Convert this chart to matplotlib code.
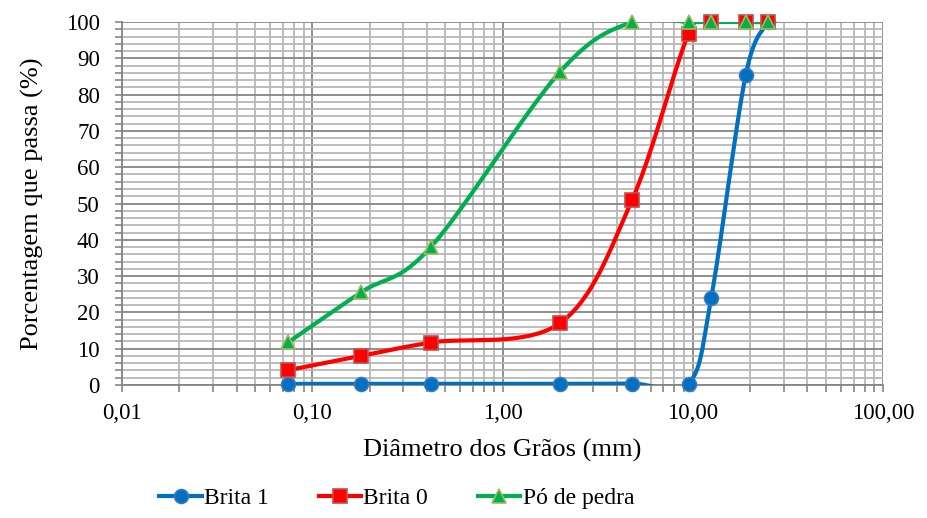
import numpy as np
import matplotlib
matplotlib.use('Agg')
import matplotlib.pyplot as plt
from matplotlib.lines import Line2D
from matplotlib.ticker import FixedLocator, FuncFormatter, MultipleLocator

# Peneiras (mm) e porcentagem que passa
diametros = [0.075, 0.18, 0.42, 2.0, 4.8, 9.5, 12.5, 19.0, 25.0]
brita_1 = [0.3, 0.3, 0.3, 0.3, 0.4, 0.4, 24.0, 85.5, 100.0]
brita_0 = [4.1, 8.0, 11.7, 17.0, 51.0, 96.7, 100.0, 100.0, 100.0]
po_pedra = [11.8, 25.5, 38.0, 86.2, 100.0, 100.0, 100.0, 100.0, 100.0]

series_names = ['Brita 1', 'Brita 0', 'Pó de pedra']
x_ticks = [0.01, 0.1, 1, 10, 100]
x_labels = ['0,01', '0,10', '1,00', '10,00', '100,00']

FONT = 'Liberation Serif'
W_PX, H_PX = 761.0, 363.0  # tamanho da area de plotagem em pixels


def smooth_curve(xs, ys, n=40):
    # curva suavizada estilo Excel (Bezier / Catmull-Rom) no espaco de pixels
    u = (np.log10(xs) + 2) / 4 * W_PX
    v = np.asarray(ys) / 100 * H_PX
    p = np.column_stack([u, v])
    out = []
    for i in range(len(p) - 1):
        p0 = p[i - 1] if i > 0 else p[i]
        p3 = p[i + 2] if i + 2 < len(p) else p[i + 1]
        c1 = p[i] + (p[i + 1] - p0) / 6
        c2 = p[i + 1] - (p3 - p[i]) / 6
        t = np.linspace(0, 1, n)[:, None]
        seg = ((1 - t) ** 3 * p[i] + 3 * (1 - t) ** 2 * t * c1
               + 3 * (1 - t) * t ** 2 * c2 + t ** 3 * p[i + 1])
        out.append(seg if i == 0 else seg[1:])
    out = np.vstack(out)
    return 10 ** (out[:, 0] / W_PX * 4 - 2), out[:, 1] / H_PX * 100


fig = plt.figure(figsize=(9.27, 5.18), dpi=100)
ax = fig.add_axes([122 / 927, 1 - 385 / 518, 761 / 927, 363 / 518])
ax.set_xscale('log')
ax.set_xlim(0.01, 100)
ax.set_ylim(0, 100)

styles = [
    dict(color='#0070C0', marker='o', mec='#3A78C0', ms=10),
    dict(color='#FF0000', marker='s', mec='#C0504D', ms=10),
    dict(color='#00B050', marker='^', mec='#9BBB59', ms=10),
]

handles = []
for ys, name, st in zip([brita_1, brita_0, po_pedra], series_names, styles):
    sx, sy = smooth_curve(diametros, ys)
    ax.plot(sx, sy, color=st['color'], lw=3, zorder=3, solid_capstyle='round')
    ax.plot(diametros, ys, ls='none', marker=st['marker'], ms=st['ms'],
            mfc=st['color'], mec=st['mec'], mew=1.2, zorder=4, clip_on=False)
    handles.append(Line2D([], [], color=st['color'], lw=3, marker=st['marker'],
                          ms=st['ms'], mfc=st['color'], mec=st['mec'], mew=1.2))

# grade
ax.yaxis.set_major_locator(MultipleLocator(10))
ax.yaxis.set_minor_locator(MultipleLocator(2))
ax.xaxis.set_major_locator(FixedLocator(x_ticks))
ax.xaxis.set_major_formatter(FuncFormatter(lambda v, pos: x_labels[pos] if pos is not None and pos < len(x_labels) else ''))
ax.xaxis.set_minor_locator(matplotlib.ticker.LogLocator(base=10, subs=np.arange(2, 10)))
ax.xaxis.set_minor_formatter(matplotlib.ticker.NullFormatter())
ax.grid(which='major', color='#868686', lw=1.3, zorder=0)
ax.grid(which='minor', color='#B8B8B8', lw=1.3, zorder=0)
ax.set_axisbelow(True)

for s in ['top', 'right']:
    ax.spines[s].set_visible(False)
for s in ['left', 'bottom']:
    ax.spines[s].set_color('#868686')
    ax.spines[s].set_linewidth(1.3)

ax.tick_params(which='both', direction='out', color='#868686', width=1.2, length=5)
ax.tick_params(axis='y', which='major', pad=11)
ax.tick_params(axis='x', which='major', pad=8)
for lbl in ax.get_xticklabels() + ax.get_yticklabels():
    lbl.set_fontfamily(FONT)
    lbl.set_fontsize(16.5)

ax.set_xlabel('Diâmetro dos Grãos (mm)', fontfamily=FONT, fontsize=19, labelpad=11)
ax.set_ylabel('Porcentagem que passa (%)', fontfamily=FONT, fontsize=19, labelpad=16)

fig.legend(handles, series_names, loc='center', bbox_to_anchor=(0.428, 0.038), ncol=3,
           frameon=False, prop={'family': FONT, 'size': 17}, handlelength=1.8,
           handletextpad=0.1, columnspacing=2.1)

fig.savefig('out.png', dpi=100)
